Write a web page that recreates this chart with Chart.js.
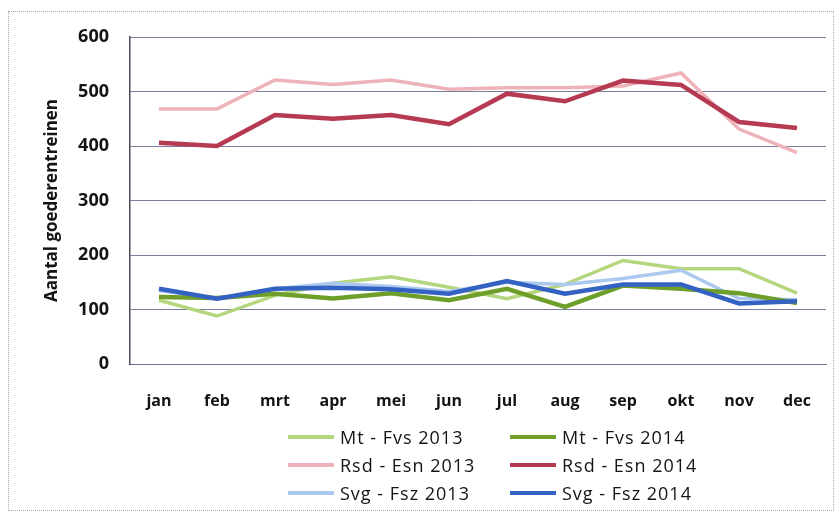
<!DOCTYPE html>
<html>
<head>
<meta charset="utf-8">
<script src="https://cdn.jsdelivr.net/npm/chart.js@4"></script>
<style>
  body { margin: 0; background: #fff; }
  #wrap { position: relative; width: 839px; height: 514px; }
  #frame { position: absolute; left: 8px; top: 11px; width: 826px; height: 500px; border: 1px dotted #a8a8b8; box-sizing: border-box; pointer-events: none; }
  #legend { position: absolute; left: 288px; top: 423px; display: grid; grid-template-columns: 222px auto; grid-auto-rows: 28px;
            font-family: 'Open Sans', 'DejaVu Sans', sans-serif; font-size: 18px; letter-spacing: 1px; color: #141414; }
  #legend .item { display: flex; align-items: center; white-space: nowrap; }
  #legend .swatch { width: 46px; height: 4px; margin-right: 6px; }
</style>
</head>
<body>
<div id="wrap">
  <canvas id="chart" width="839" height="514"></canvas>
  <div id="legend"></div>
  <div id="frame"></div>
</div>
<script>
const months = ["jan", "feb", "mrt", "apr", "mei", "jun", "jul", "aug", "sep", "okt", "nov", "dec"]

// aantal goederentreinen per maand
const mtFvs2013 = [117, 88, 126, 148, 160, 141, 120, 146, 190, 175, 175, 130]
const mtFvs2014 = [123, 121, 129, 120, 130, 117, 138, 105, 144, 138, 130, 112]
const rsdEsn2013 = [468, 468, 521, 513, 521, 504, 507, 507, 510, 534, 431, 388]
const rsdEsn2014 = [406, 400, 457, 450, 457, 440, 496, 482, 520, 512, 444, 433]
const svgFsz2013 = [135, 120, 138, 148, 142, 133, 150, 146, 157, 172, 120, 118]
const svgFsz2014 = [138, 120, 138, 140, 137, 129, 152, 129, 146, 146, 111, 115]

const yMin = 0
const yMax = 600
const yStep = 100

const font = "'Open Sans', 'DejaVu Sans', sans-serif"

function line(label, data, color, width, order) {
    return {
        label: label,
        data: data,
        borderColor: color,
        backgroundColor: color,
        borderWidth: width,
        pointRadius: 0,
        tension: 0,
        fill: false,
        order: order
    }
}

const ctx = document.getElementById("chart").getContext("2d")
const chart = new Chart(ctx, {
    type: 'line',
    data: {
        labels: months,
        datasets: [
            line('Mt - Fvs 2013', mtFvs2013, '#b4d67c', 3.5, 4),
            line('Mt - Fvs 2014', mtFvs2014, '#6f9f2b', 4.5, 2),
            line('Rsd - Esn 2013', rsdEsn2013, '#eeb2b9', 3.5, 5),
            line('Rsd - Esn 2014', rsdEsn2014, '#b63a51', 4.5, 1),
            line('Svg - Fsz 2013', svgFsz2013, '#abc8ee', 3.5, 3),
            line('Svg - Fsz 2014', svgFsz2014, '#3462c2', 4.5, 0)
        ]
    },
    options: {
        responsive: false,
        animation: false,
        layout: {
            padding: { left: 38, right: 13, top: 37, bottom: 97 }
        },
        scales: {
            x: {
                offset: true,
                grid: { display: false },
                border: { display: true, color: '#6f6f8f', width: 1 },
                ticks: {
                    color: '#141414',
                    padding: 20,
                    font: { family: font, size: 16, weight: 'bold' }
                },
                afterFit: (scale) => { scale.height = 53 }
            },
            y: {
                min: yMin,
                max: yMax,
                grid: { color: '#7c7ca2', lineWidth: 1, drawTicks: false },
                border: { display: true, color: '#4a4a5a', width: 1.5 },
                ticks: {
                    stepSize: yStep,
                    color: '#141414',
                    padding: 21,
                    font: { family: font, size: 18, weight: 'bold' }
                },
                title: {
                    display: true,
                    text: 'Aantal goederentreinen',
                    color: '#141414',
                    font: { family: font, size: 17, weight: 'bold' }
                },
                afterFit: (scale) => { scale.width = 92 }
            }
        },
        plugins: {
            tooltip: { enabled: false },
            legend: { display: false }
        }
    }
});

// legend in two columns, like the original
const legendEl = document.getElementById("legend")
chart.data.datasets.forEach((ds) => {
    const item = document.createElement("div")
    item.className = "item"
    const swatch = document.createElement("span")
    swatch.className = "swatch"
    swatch.style.background = ds.borderColor
    const text = document.createElement("span")
    text.innerText = ds.label
    item.appendChild(swatch)
    item.appendChild(text)
    legendEl.appendChild(item)
})
</script>
</body>
</html>
